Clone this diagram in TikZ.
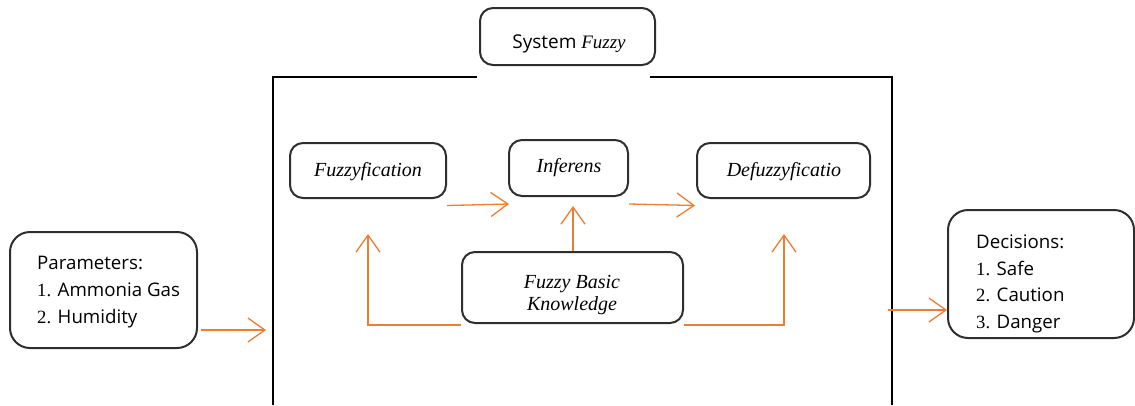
\documentclass[tikz,border=0pt]{standalone}
\usepackage{fontspec}
\setmainfont{Liberation Serif}
\newfontfamily\uisans{Open Sans}
\usetikzlibrary{arrows.meta}
\definecolor{boxc}{HTML}{2E2E2E}
\definecolor{arrc}{HTML}{ED7D31}
\begin{document}
\begin{tikzpicture}[x=1pt,y=-1pt,
  box/.style={draw=boxc, line width=2pt, rounded corners=13pt, inner sep=0pt},
  flow/.style={draw=arrc, line width=1.3pt, -{Straight Barb[length=17pt,width=24pt,line width=1.3pt]}},
  lbl/.style={inner sep=0pt, font=\fontsize{20}{22}\selectfont\itshape, align=center},
  lst/.style={inner sep=0pt, anchor=west, align=left, font=\uisans\fontsize{18.7}{26.7}\selectfont}]
\useasboundingbox (0,0) rectangle (1135,405);
% outer system frame
\draw[line width=1.3pt] (477,77) -- (273,77) -- (273,405);
\draw[line width=1.3pt] (650,77) -- (892,77) -- (892,405);
% boxes
\node[box, minimum width=175pt, minimum height=57pt] (sys) at (567.5,36.5) {};
\node[lbl, font=\fontsize{19}{22}\selectfont] (systxt) at (569,44) {{\uisans System} \textit{Fuzzy}};
\node[box, minimum width=156pt, minimum height=55pt] (fz) at (368,170.5) {};
\node[lbl] (fztxt) at (368,172) {Fuzzyfication};
\node[box, minimum width=119pt, minimum height=56pt] (inf) at (568.5,168) {};
\node[lbl] (inftxt) at (569,168) {Inferens};
\node[box, minimum width=173pt, minimum height=55pt] (dfz) at (783.5,170.5) {};
\node[lbl] (dfztxt) at (784,172) {Defuzzyficatio};
\node[box, minimum width=221pt, minimum height=71pt] (fbk) at (572.5,287.5) {};
\node[lbl] (fbktxt) at (572,295) {Fuzzy Basic\\Knowledge};
\node[box, rounded corners=20pt, minimum width=187pt, minimum height=116pt] (par) at (103.5,290) {};
\node[lst] (partxt) at (37,292) {Parameters:\\{\rmfamily 1.} Ammonia Gas\\{\rmfamily 2.} Humidity};
\node[box, rounded corners=20pt, minimum width=186pt, minimum height=128pt] (dec) at (1041,274) {};
\node[lst] (dectxt) at (976,284) {Decisions:\\{\rmfamily 1.} Safe\\{\rmfamily 2.} Caution\\{\rmfamily 3.} Danger};
% connector end points
\coordinate (sysin) at (266,330);
\coordinate (sysout) at (888,310);
\coordinate (fzin) at (368,234);
\coordinate (dfzin) at (784,234);
% connectors
\draw[flow] (par.east |- sysin) ++(3,0) -- (sysin);
\draw[flow] (sysout) -- (dec.west |- sysout);
\draw[flow] ([yshift=-35pt]fz.east) -- ([yshift=-36pt,xshift=1pt]inf.west);
\draw[flow] ([yshift=-36pt]inf.east) -- ([yshift=-35pt,xshift=-1pt]dfz.west);
\draw[flow] (fbk.north -| inftxt) ++(4,0) -- ++(0,-45);
\draw[flow] ([yshift=-1pt]fbk.south west) -- ([yshift=-1pt]fbk.south west -| fzin) -- (fzin);
\draw[flow] ([yshift=-1pt]fbk.south east) -- ([yshift=-1pt]fbk.south east -| dfzin) -- (dfzin);
\end{tikzpicture}
\end{document}
